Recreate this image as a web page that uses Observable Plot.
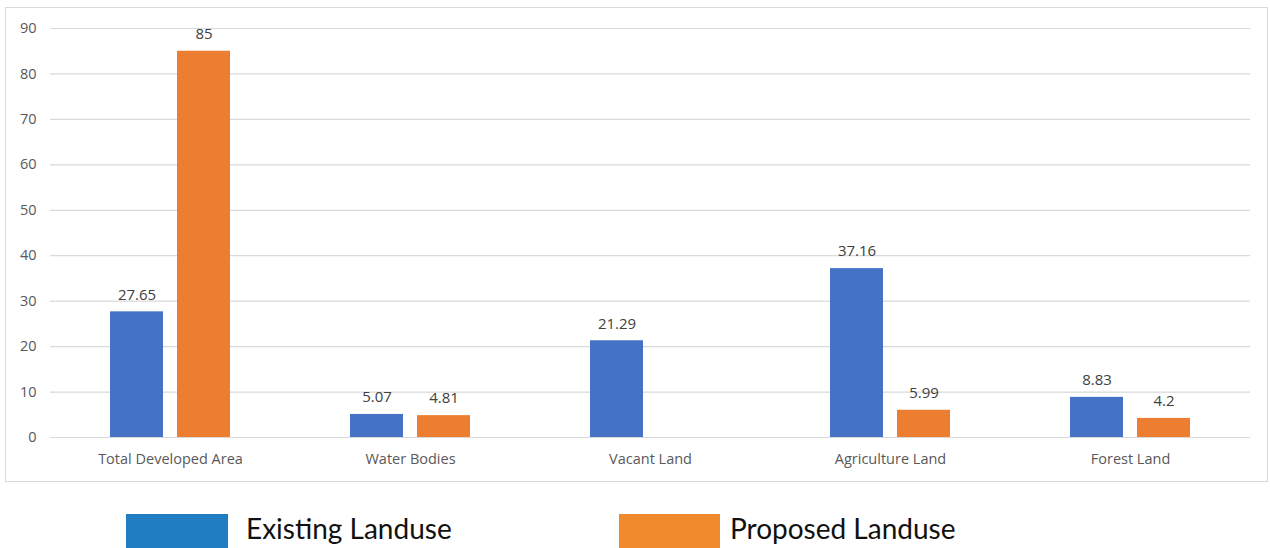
<!DOCTYPE html>
<html>
<head>
<meta charset="utf-8">
<script src="https://cdn.jsdelivr.net/npm/d3@7"></script>
<script src="https://cdn.jsdelivr.net/npm/@observablehq/plot@0.6"></script>
<style>
  html, body { margin: 0; padding: 0; background: #fff; }
  #wrap { position: relative; width: 1270px; height: 548px; overflow: hidden; }
  #frame { position: absolute; left: 5px; top: 7px; width: 1263px; height: 475px; border: 1px solid #d9d9d9; box-sizing: border-box; }
  #chart { position: absolute; left: 0; top: 0; }
  .leg-sw { position: absolute; top: 514px; height: 34px; }
  .leg-tx { position: absolute; top: 511px; font-family: Lato, "Noto Sans", sans-serif; font-size: 28px; color: #111; line-height: 34px; }
</style>
</head>
<body>
<div id="wrap">
  <div id="frame"></div>
  <div id="chart"></div>
  <div class="leg-sw" style="left:126px;width:102px;background:#1f7ec2"></div>
  <div class="leg-tx" style="left:246px">Existing Landuse</div>
  <div class="leg-sw" style="left:619px;width:101px;background:#f08a2c"></div>
  <div class="leg-tx" style="left:730px">Proposed Landuse</div>
</div>
<script>
const categories = ["Total Developed Area", "Water Bodies", "Vacant Land", "Agriculture Land", "Forest Land"];
const seriesNames = ["Existing Landuse", "Proposed Landuse"];
const existing = [27.65, 5.07, 21.29, 37.16, 8.83];
const proposed = [85, 4.81, null, 5.99, 4.2];
const yTicks = [0, 10, 20, 30, 40, 50, 60, 70, 80, 90];
const barColors = ["#4472c4", "#ed7d31"];

const rows = [];
categories.forEach((c, i) => {
  rows.push({category: c, series: seriesNames[0], value: existing[i]});
  if (proposed[i] != null) rows.push({category: c, series: seriesNames[1], value: proposed[i]});
});

const chart = Plot.plot({
  width: 1270,
  height: 490,
  marginTop: 28,
  marginBottom: 53,
  marginLeft: 50,
  marginRight: 20,
  style: { fontFamily: "'Open Sans', sans-serif", fontSize: "14.5px", color: "#595959", background: "transparent" },
  fx: { domain: categories, padding: 0, axis: "bottom", tickSize: 0, tickPadding: 16, label: null },
  x: { domain: seriesNames, paddingInner: 0.206, paddingOuter: 0.868, axis: null },
  y: { domain: [0, 90], ticks: yTicks, axis: "left", tickSize: 0, tickPadding: 14, label: null },
  color: { domain: seriesNames, range: barColors },
  marks: [
    Plot.ruleY(yTicks, { stroke: "#d9d9d9", strokeWidth: 1.2 }),
    Plot.barY(rows, { fx: "category", x: "series", y: "value", fill: "series" }),
    Plot.text(rows, { fx: "category", x: "series", y: "value", text: d => String(d.value), dy: -17, fill: "#404040", fontSize: 15 })
  ]
});
document.getElementById("chart").appendChild(chart);
</script>
</body>
</html>
